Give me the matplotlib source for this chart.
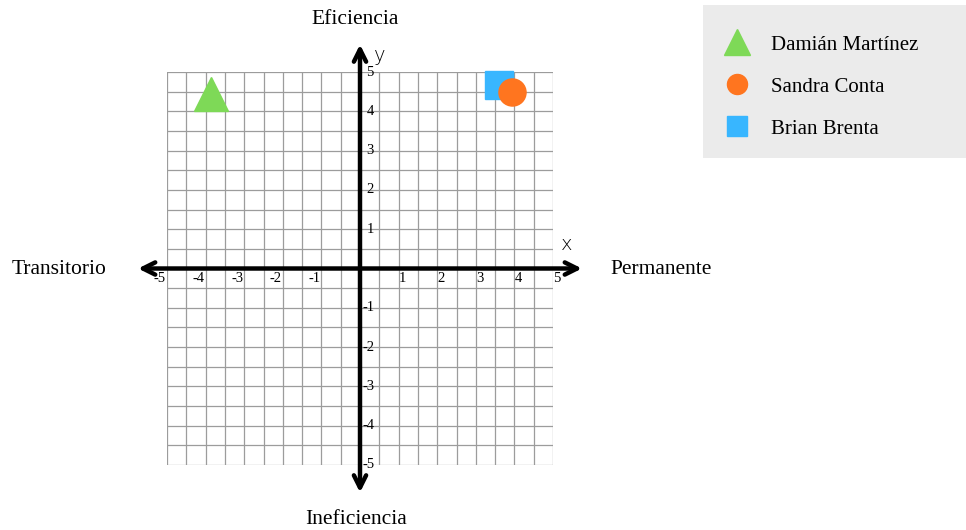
import numpy as np
import matplotlib
matplotlib.use("Agg")
import matplotlib.pyplot as plt
from matplotlib.patches import Rectangle

# data
names = ["Damián Martínez", "Brian Brenta", "Sandra Conta"]
xs = [-3.85, 3.6, 3.95]
ys = [4.45, 4.68, 4.5]
markers = ["^", "s", "o"]
colors = ["#7ED957", "#38B6FF", "#FF751F"]
sizes = [24.5, 19.5, 19.5]
legend_order = ["Damián Martínez", "Sandra Conta", "Brian Brenta"]

ticks = [-5, -4, -3, -2, -1, 1, 2, 3, 4, 5]

serif = "Liberation Serif"
fig = plt.figure(figsize=(9.66, 5.3), dpi=100)
ax = fig.add_axes([167 / 966, 65 / 530, 386 / 966, 393 / 530])
ax.set_xlim(-5, 5); ax.set_ylim(-5, 5)
ax.set_xticks(np.arange(-5, 5.01, 0.5)); ax.set_yticks(np.arange(-5, 5.01, 0.5))
ax.grid(True, color="#9c9c9c", lw=0.9)
ax.tick_params(length=0, labelbottom=False, labelleft=False)
for s in ax.spines.values():
    s.set_visible(False)
ax.set_axisbelow(True)

# axes with arrow heads
ax.annotate("", xy=(5.75, 0), xytext=(-5.75, 0), annotation_clip=False,
            arrowprops=dict(arrowstyle="<->", lw=3.2, color="black", mutation_scale=22, shrinkA=0, shrinkB=0))
ax.annotate("", xy=(0, 5.7), xytext=(0, -5.7), annotation_clip=False,
            arrowprops=dict(arrowstyle="<->", lw=3.2, color="black", mutation_scale=22, shrinkA=0, shrinkB=0))

for t in ticks:
    ax.text(t + (0.1 if t > 0 else -0.18), -0.26, str(t), ha="center", va="center",
            fontsize=10.5, family=serif, clip_on=False)
    ax.text(0.17 if t > 0 else 0.07, t, str(t), ha="left", va="center",
            fontsize=10.5, family=serif, clip_on=False)

ax.text(5.35, 0.6, "x", fontsize=14, family="DejaVu Sans", fontweight="light", ha="center", va="center", clip_on=False)
ax.text(0.5, 5.42, "y", fontsize=14, family="DejaVu Sans", fontweight="light", ha="center", va="center", clip_on=False)

for n, x, y, m, c, s in zip(names, xs, ys, markers, colors, sizes):
    ax.plot(x, y, marker=m, color=c, ms=s, ls="none", label=n, clip_on=False, zorder=5)

fs = 15.5
fig.text(355 / 966, 1 - 19 / 530, "Eficiencia", ha="center", va="center", fontsize=fs, family=serif)
fig.text(356 / 966, 1 - 519 / 530, "Ineficiencia", ha="center", va="center", fontsize=fs, family=serif)
fig.text(59 / 966, 1 - 270 / 530, "Transitorio", ha="center", va="center", fontsize=fs, family=serif)
fig.text(661 / 966, 1 - 270 / 530, "Permanente", ha="center", va="center", fontsize=fs, family=serif)

# legend background box
fig.patches.append(Rectangle((703 / 966, 1 - 158 / 530), 263 / 966, 153 / 530,
                             transform=fig.transFigure, facecolor="#EBEBEB", edgecolor="none", zorder=0))

h, l = ax.get_legend_handles_labels()
hd = dict(zip(l, h))
leg = fig.legend([hd[k] for k in legend_order], legend_order, loc="upper left",
                 bbox_to_anchor=(721 / 966, 1 - 35 / 530), prop={"family": serif, "size": 15},
                 markerscale=0.74, frameon=False, borderpad=0, labelspacing=1.08, handletextpad=0.88,
                 borderaxespad=0, handlelength=1.5)

fig.savefig("out.png", dpi=100)
